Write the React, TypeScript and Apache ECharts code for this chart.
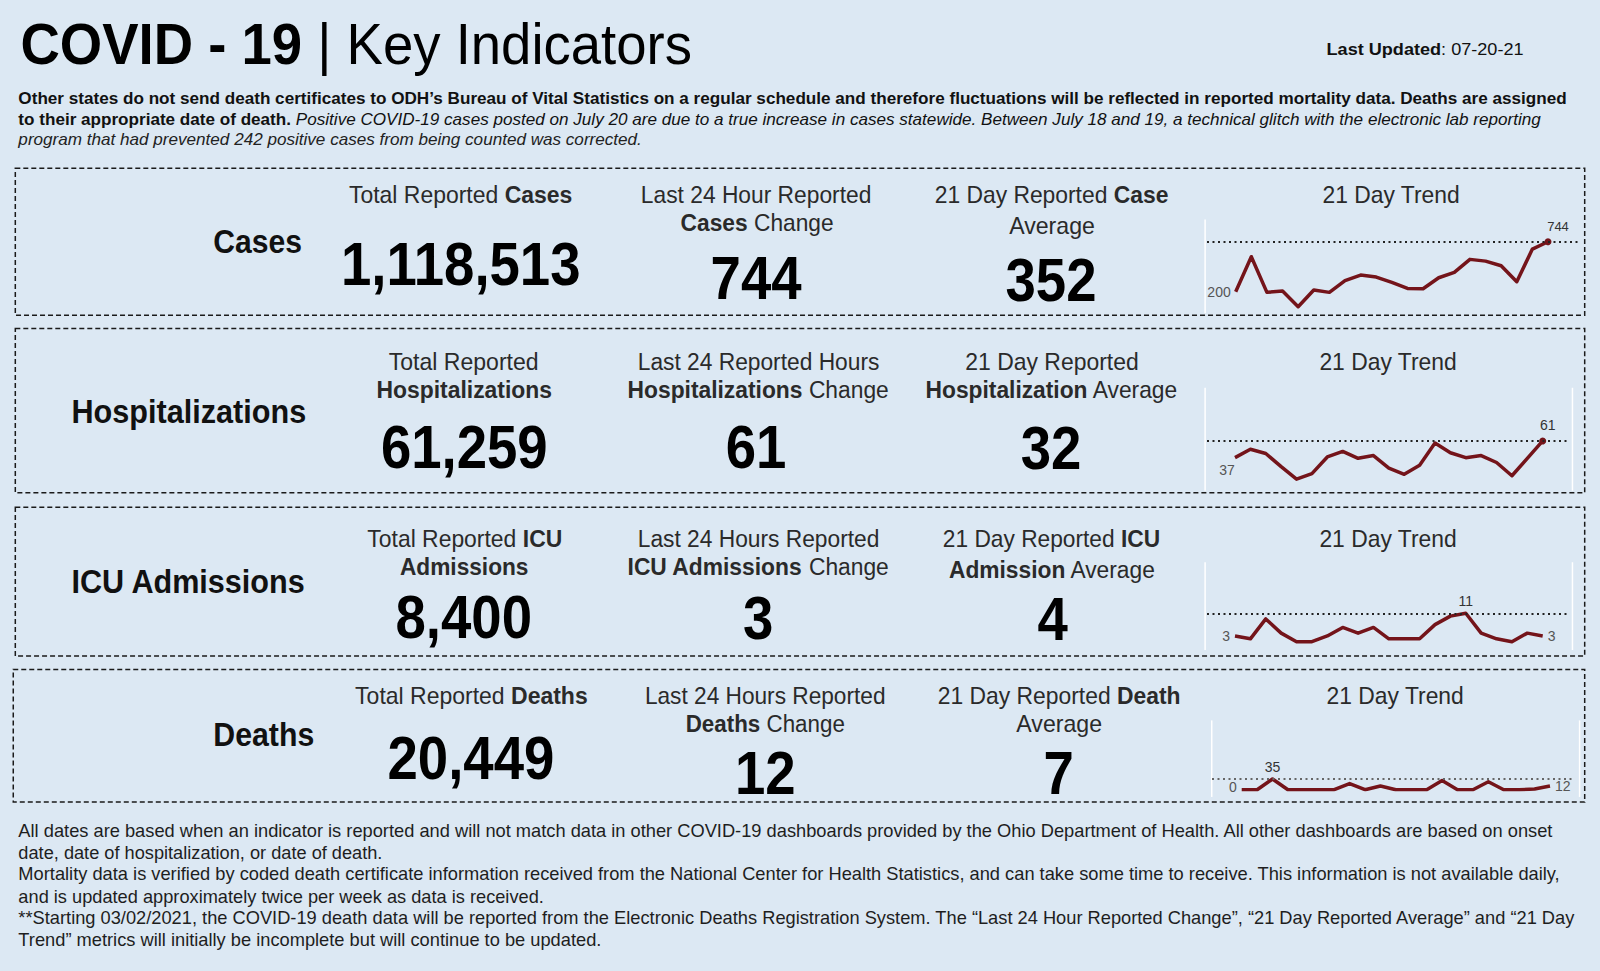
import React, { useEffect, useRef } from "react";
import * as echarts from "echarts";

// ---------------- data ----------------
const rowLabels = ["Cases", "Hospitalizations", "ICU Admissions", "Deaths"];
const totalValues = ["1,118,513", "61,259", "8,400", "20,449"];
const changeValues = ["744", "61", "3", "12"];
const averageValues = ["352", "32", "4", "7"];

const casesTrend = [200, 581, 193, 207, 37, 218, 193, 320, 381, 359, 301, 236, 232, 352, 410, 552, 533, 483, 309, 664, 744];
const hospTrend = [37, 49, 43, 24, 6, 14, 38, 46, 36, 40, 22, 13, 26, 58, 44, 37, 40, 30, 11, 36, 61];
const icuTrend = [3, 2, 9, 4, 1, 1, 3, 6, 4, 6, 2, 2, 2, 7, 10, 11, 4, 2, 1, 4, 3];
const deathsTrend = [0, 0, 35, 0, 0, 0, 0, 20, 0, 12, 0, 0, 0, 30, 0, 0, 26, 0, 0, 2, 12];

const titleBold = "COVID - 19";
const titleRegular = " | Key Indicators";
const lastUpdatedLabel = "Last Updated";
const lastUpdatedValue = ": 07-20-21";

const introLine1 = "Other states do not send death certificates to ODH’s Bureau of Vital Statistics on a regular schedule and therefore fluctuations will be reflected in reported mortality data. Deaths are assigned";
const introLine2Bold = "to their appropriate date of death. ";
const introLine2Italic = "Positive COVID-19 cases posted on July 20 are due to a true increase in cases statewide. Between July 18 and 19, a technical glitch with the electronic lab reporting";
const introLine3 = "program that had prevented 242 positive cases from being counted was corrected.";

const footerLines = [
  "All dates are based when an indicator is reported and will not match data in other COVID-19 dashboards provided by the Ohio Department of Health. All other dashboards are based on onset",
  "date, date of hospitalization, or date of death.",
  "Mortality data is verified by coded death certificate information received from the National Center for Health Statistics, and can take some time to receive. This information is not available daily,",
  "and is updated approximately twice per week as data is received.",
  "**Starting 03/02/2021, the COVID-19 death data will be reported from the Electronic Deaths Registration System. The “Last 24 Hour Reported Change”, “21 Day Reported Average” and “21 Day",
  "Trend” metrics will initially be incomplete but will continue to be updated.",
];

// ---------------- helpers ----------------
const FF = '"Liberation Sans", Arial, Helvetica, sans-serif';
const K = 1600 / 1568;
const BG = "#dce8f3";
const LINE_COLOR = "#74141a";

type Part = [string, string]; // [text, kind: r | b | i]

let mctx: CanvasRenderingContext2D | null = null;
function measure(t: string, size: number, kind: string) {
  if (!mctx) mctx = document.createElement("canvas").getContext("2d");
  const w = kind.includes("b") ? "bold" : "normal";
  const s = kind.includes("i") ? "italic" : "normal";
  mctx!.font = `${s} ${w} ${size}px ${FF}`;
  return mctx!.measureText(t).width;
}

function richStyles(size: number, color: string) {
  return {
    r: { fontFamily: FF, fontSize: size, fontWeight: "normal", fontStyle: "normal", fill: color },
    b: { fontFamily: FF, fontSize: size, fontWeight: "bold", fontStyle: "normal", fill: color },
    i: { fontFamily: FF, fontSize: size, fontWeight: "normal", fontStyle: "italic", fill: color },
  };
}

function styleFor(parts: Part[], size: number, color: string, align: string) {
  if (parts.length === 1) {
    const k = parts[0][1];
    return {
      text: parts[0][0],
      fontFamily: FF,
      fontSize: size,
      fontWeight: k.includes("b") ? "bold" : "normal",
      fontStyle: k.includes("i") ? "italic" : "normal",
      fill: color,
      align,
      verticalAlign: "middle",
    };
  }
  return {
    text: parts.map((p) => `{${p[1]}|${p[0]}}`).join(""),
    rich: richStyles(size, color),
    fontFamily: FF,
    fontSize: size,
    fill: color,
    align,
    verticalAlign: "middle",
  };
}

// fit text between x0..x1 (reference px, shrunk scale)
function fitText(parts: Part[], size: number, x0: number, x1: number, yc: number, color: string) {
  const natural = parts.reduce((a, p) => a + measure(p[0], size, p[1]), 0);
  const sx = ((x1 - x0) * K) / natural;
  return {
    type: "text",
    x: x0 * K,
    y: yc * K,
    scaleX: sx,
    silent: true,
    style: styleFor(parts, size, color, "left"),
  };
}

function centerText(parts: Part[], size: number, cx: number, yc: number, sx: number, color: string) {
  return {
    type: "text",
    x: cx * K,
    y: yc * K,
    scaleX: sx,
    silent: true,
    style: styleFor(parts, size, color, "center"),
  };
}

function dashedBox(x0: number, y0: number, x1: number, y1: number) {
  return {
    type: "rect",
    silent: true,
    shape: { x: x0 * K, y: y0 * K, width: (x1 - x0) * K, height: (y1 - y0) * K },
    style: { fill: "none", stroke: "#1a1a1a", lineWidth: 1.5, lineDash: [5, 3] },
  };
}

function whiteLine(x: number, y0: number, y1: number) {
  return {
    type: "line",
    silent: true,
    shape: { x1: x * K, y1: y0 * K, x2: x * K, y2: y1 * K },
    style: { stroke: "#ffffff", lineWidth: 1.5 },
  };
}

// ---------------- sparklines ----------------
type LabelCfg = { idx: number; pos: string; offset?: number[]; color?: string; size?: number };
type SparkGeom = {
  dl: number; dr: number; xFirst: number; xLast: number;
  ymin: number; yAtMin: number; ymax: number; yAtMax: number;
};

function sparkline(i: number, vals: number[], g: SparkGeom, labels: LabelCfg[], dotIdx: number, dotColor: string) {
  const n = vals.length;
  const sp = (g.xLast - g.xFirst) / (n - 1);
  const grid = { left: g.dl, width: g.dr - g.dl, top: g.yAtMax, height: g.yAtMin - g.yAtMax };
  const xAxis = {
    type: "value", gridIndex: i, show: false,
    min: -(g.xFirst - g.dl) / sp, max: n - 1 + (g.dr - g.xLast) / sp,
  };
  const yAxis = { type: "value", gridIndex: i, show: false, min: g.ymin, max: g.ymax };
  const data = vals.map((v, k) => {
    const lc = labels.find((l) => l.idx === k);
    return {
      value: [k, v],
      symbol: "circle",
      symbolSize: k === dotIdx ? 7 : 0,
      itemStyle: { color: LINE_COLOR },
      label: lc
        ? {
            show: true,
            position: lc.pos,
            offset: lc.offset || [0, 0],
            distance: 5,
            color: lc.color || "#555",
            fontSize: lc.size || 14,
            fontFamily: FF,
            formatter: String(v),
          }
        : { show: false },
    };
  });
  const series = {
    type: "line",
    xAxisIndex: i,
    yAxisIndex: i,
    data,
    showSymbol: true,
    lineStyle: { color: LINE_COLOR, width: 3.5, join: "round" },
    itemStyle: { color: LINE_COLOR },
    emphasis: { disabled: true },
    z: 3,
    markLine: {
      silent: true,
      symbol: "none",
      label: { show: false },
      lineStyle: { type: [2, 3.5], color: dotColor, width: 2 },
      data: [{ type: "max" }],
    },
  };
  return { grid, xAxis, yAxis, series };
}

function buildOption() {
  const sparks = [
    sparkline(0, casesTrend,
      { dl: 1207, dr: 1580, xFirst: 1235.7, xLast: 1548, ymin: 0, yAtMin: 310.1, ymax: 1000, yAtMax: 218.2 },
      [
        { idx: 0, pos: "left" },
        { idx: 20, pos: "top", offset: [10, 0], color: "#333", size: 13 },
      ], 20, "#222"),
    sparkline(1, hospTrend,
      { dl: 1207, dr: 1570, xFirst: 1235, xLast: 1542.7, ymin: 0, yAtMin: 483.4, ymax: 100, yAtMax: 413.8 },
      [
        { idx: 0, pos: "bottom", offset: [-8, 0] },
        { idx: 20, pos: "top", offset: [5, 0], color: "#333" },
      ], 20, "#222"),
    sparkline(2, icuTrend,
      { dl: 1207, dr: 1570, xFirst: 1235, xLast: 1542.7, ymin: 0, yAtMin: 644.5, ymax: 20, yAtMax: 587.7 },
      [
        { idx: 0, pos: "left" },
        { idx: 15, pos: "top", color: "#333" },
        { idx: 20, pos: "right" },
      ], -1, "#222"),
    sparkline(3, deathsTrend,
      { dl: 1212, dr: 1575, xFirst: 1241.7, xLast: 1550, ymin: 0, yAtMin: 789.7, ymax: 100, yAtMax: 759.1 },
      [
        { idx: 0, pos: "left", offset: [0, -3] },
        { idx: 2, pos: "top", color: "#333" },
        { idx: 20, pos: "right" },
      ], -1, "#666"),
  ];

  const HC = "#2a2a2a";
  const NUM = 62;
  const NSX = 0.88;
  const HS = 24;

  const g: any[] = [];
  // boxes
  g.push(dashedBox(15, 165, 1553, 309));
  g.push(dashedBox(15, 322, 1553, 483));
  g.push(dashedBox(15, 497, 1553, 643));
  g.push(dashedBox(13, 656, 1553, 786));
  // white pane lines
  g.push(whiteLine(1181, 215, 307));
  g.push(whiteLine(1181, 380, 481), whiteLine(1541, 380, 481));
  g.push(whiteLine(1181, 551, 637), whiteLine(1541, 551, 637));
  g.push(whiteLine(1187.5, 706, 781), whiteLine(1548, 706, 781));

  // title
  g.push(fitText([[titleBold, "b"], [titleRegular, "r"]], 58, 20, 678, 43, "#000"));
  g.push(fitText([[lastUpdatedLabel, "b"], [lastUpdatedValue, "r"]], 17, 1300, 1493, 48, "#111"));
  // intro
  g.push(fitText([[introLine1, "b"]], 17, 18, 1537, 97, "#111"));
  g.push(fitText([[introLine2Bold, "b"], [introLine2Italic, "i"]], 17, 18, 1511, 117, "#111"));
  g.push(fitText([[introLine3, "i"]], 17, 18, 629, 137, "#222"));

  // row labels
  g.push(fitText([[rowLabels[0], "b"]], 33, 209, 296, 237, "#111"));
  g.push(fitText([[rowLabels[1], "b"]], 33, 70, 300, 403, "#111"));
  g.push(fitText([[rowLabels[2], "b"]], 33, 70, 300, 570, "#111"));
  g.push(fitText([[rowLabels[3], "b"]], 33, 209, 308, 720, "#111"));

  // row 1 cases
  g.push(fitText([["Total Reported ", "r"], ["Cases", "b"]], HS, 342, 561, 191, HC));
  g.push(fitText([["Last 24 Hour Reported", "r"]], HS, 628, 854, 191, HC));
  g.push(fitText([["Cases", "b"], [" Change", "r"]], HS, 667, 817, 218, HC));
  g.push(fitText([["21 Day Reported ", "r"], ["Case", "b"]], HS, 916, 1145, 191, HC));
  g.push(fitText([["Average", "r"]], HS, 989, 1073, 221, HC));
  g.push(fitText([["21 Day Trend", "r"]], HS, 1296, 1431, 191, HC));
  g.push(centerText([[totalValues[0], "b"]], NUM, 451.5, 258, NSX, "#000"));
  g.push(centerText([[changeValues[0], "b"]], NUM, 741, 272, NSX, "#000"));
  g.push(centerText([[averageValues[0], "b"]], NUM, 1030, 274, NSX, "#000"));

  // row 2 hospitalizations
  g.push(fitText([["Total Reported", "r"]], HS, 381, 528, 355, HC));
  g.push(fitText([["Hospitalizations", "b"]], HS, 369, 541, 382, HC));
  g.push(fitText([["Last 24 Reported Hours", "r"]], HS, 625, 862, 355, HC));
  g.push(fitText([["Hospitalizations", "b"], [" Change", "r"]], HS, 615, 871, 382, HC));
  g.push(fitText([["21 Day Reported", "r"]], HS, 946, 1116, 355, HC));
  g.push(fitText([["Hospitalization", "b"], [" Average", "r"]], HS, 907, 1155, 382, HC));
  g.push(fitText([["21 Day Trend", "r"]], HS, 1293, 1428, 355, HC));
  g.push(centerText([[totalValues[1], "b"]], NUM, 455, 437, NSX, "#000"));
  g.push(centerText([[changeValues[1], "b"]], NUM, 741, 437, NSX, "#000"));
  g.push(centerText([[averageValues[1], "b"]], NUM, 1030, 438, NSX, "#000"));

  // row 3 ICU
  g.push(fitText([["Total Reported ", "r"], ["ICU", "b"]], HS, 360, 551, 528, HC));
  g.push(fitText([["Admissions", "b"]], HS, 392, 518, 555, HC));
  g.push(fitText([["Last 24 Hours Reported", "r"]], HS, 625, 862, 528, HC));
  g.push(fitText([["ICU Admissions", "b"], [" Change", "r"]], HS, 615, 871, 555, HC));
  g.push(fitText([["21 Day Reported ", "r"], ["ICU", "b"]], HS, 924, 1137, 528, HC));
  g.push(fitText([["Admission", "b"], [" Average", "r"]], HS, 930, 1133, 558, HC));
  g.push(fitText([["21 Day Trend", "r"]], HS, 1293, 1428, 528, HC));
  g.push(centerText([[totalValues[2], "b"]], NUM, 454.5, 604, NSX, "#000"));
  g.push(centerText([[changeValues[2], "b"]], NUM, 743, 605, NSX, "#000"));
  g.push(centerText([[averageValues[2], "b"]], NUM, 1031.5, 606, NSX, "#000"));

  // row 4 deaths
  g.push(fitText([["Total Reported ", "r"], ["Deaths", "b"]], HS, 348, 576, 682, HC));
  g.push(fitText([["Last 24 Hours Reported", "r"]], HS, 632, 868, 682, HC));
  g.push(fitText([["Deaths", "b"], [" Change", "r"]], HS, 672, 828, 709, HC));
  g.push(fitText([["21 Day Reported ", "r"], ["Death", "b"]], HS, 919, 1157, 682, HC));
  g.push(fitText([["Average", "r"]], HS, 996, 1080, 709, HC));
  g.push(fitText([["21 Day Trend", "r"]], HS, 1300, 1435, 682, HC));
  g.push(centerText([[totalValues[3], "b"]], NUM, 461.5, 742, NSX, "#000"));
  g.push(centerText([[changeValues[3], "b"]], NUM, 750, 757, NSX, "#000"));
  g.push(centerText([[averageValues[3], "b"]], NUM, 1037.5, 757, NSX, "#000"));

  // footer
  const footerEnds = [1524, 375, 1531, 533, 1546, 590];
  const footerY = [815, 836, 857, 879, 900, 921];
  footerLines.forEach((t, k) => {
    g.push(fitText([[t, "r"]], 17.5, 18, footerEnds[k], footerY[k], "#1e1e1e"));
  });

  return {
    animation: false,
    backgroundColor: BG,
    grid: sparks.map((s) => s.grid),
    xAxis: sparks.map((s) => s.xAxis),
    yAxis: sparks.map((s) => s.yAxis),
    series: sparks.map((s) => s.series),
    graphic: { elements: g },
  };
}

export default function App() {
  const ref = useRef<HTMLDivElement>(null);
  useEffect(() => {
    const chart = echarts.init(ref.current!, null, { renderer: "svg" });
    chart.setOption(buildOption() as any);
    return () => chart.dispose();
  }, []);
  return (
    <div
      ref={ref}
      style={{ position: "absolute", left: 0, top: 0, width: 1600, height: 971 }}
    />
  );
}
